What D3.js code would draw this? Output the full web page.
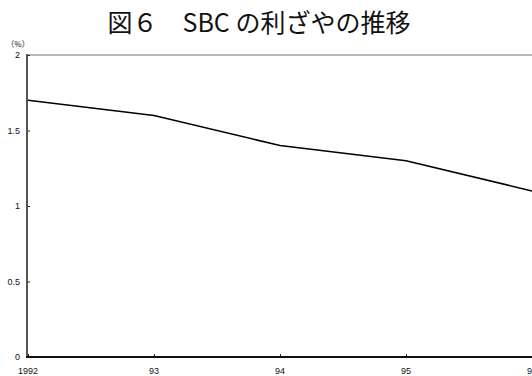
<!DOCTYPE html>
<html>
<head>
<meta charset="utf-8">
<script src="https://cdn.jsdelivr.net/npm/d3@7"></script>
<style>
  html, body { margin: 0; padding: 0; background: #fff; }
  svg { display: block; }
</style>
</head>
<body>
<svg id="chart" width="532" height="376"></svg>
<script>
// Interest margin of SBC, by fiscal year (%)
const years = [1992, 1993, 1994, 1995, 1996];
const yearLabels = ["1992", "93", "94", "95", "96"];
const margin = [1.7, 1.6, 1.4, 1.3, 1.1];
const yTicks = [0, 0.5, 1, 1.5, 2];
const yTickLabels = ["0", "0.5", "1", "1.5", "2"];

const svg = d3.select("#chart");
const W = 532, H = 376;
const plotLeft = 27, plotTop = 55, plotBottom = 357;
const step = 126;

const x = d3.scaleLinear().domain([1992, 1996]).range([plotLeft + 1, plotLeft + 1 + step * 4]);
const y = d3.scaleLinear().domain([0, 2]).range([plotBottom, plotTop]);

const fontJP = "'Noto Sans CJK JP', sans-serif";
const fontNum = "'Liberation Sans', Arial, sans-serif";

// Title
svg.append("text")
  .attr("x", 259).attr("y", 32)
  .attr("text-anchor", "middle")
  .attr("font-family", fontJP)
  .attr("font-size", 25)
  .attr("font-weight", 400)
  .attr("fill", "#111")
  .text("図６　SBC の利ざやの推移");

// Top boundary line at 2%
svg.append("line")
  .attr("x1", plotLeft).attr("x2", W)
  .attr("y1", y(2)).attr("y2", y(2))
  .attr("stroke", "#777").attr("stroke-width", 1);

// Y axis
const yAxis = d3.axisRight(y)
  .tickValues(yTicks)
  .tickSize(3)
  .tickFormat(() => "");
const gy = svg.append("g").attr("transform", `translate(${plotLeft},0)`).call(yAxis);
gy.select(".domain").remove();
gy.selectAll(".tick line").attr("stroke", "#222");
svg.append("line")
  .attr("x1", plotLeft).attr("x2", plotLeft)
  .attr("y1", y(2) - 1).attr("y2", plotBottom)
  .attr("stroke", "#555").attr("stroke-width", 2);

// Y tick labels
svg.append("g").selectAll("text")
  .data(yTicks)
  .join("text")
  .attr("x", 20).attr("y", d => y(d) + 3)
  .attr("text-anchor", "end")
  .attr("font-family", fontNum)
  .attr("font-size", 9)
  .attr("fill", "#111")
  .text((d, i) => yTickLabels[i]);

// Unit label
svg.append("text")
  .attr("x", 18).attr("y", 47)
  .attr("text-anchor", "middle")
  .attr("font-family", fontJP)
  .attr("font-size", 8)
  .attr("fill", "#111")
  .text("（%）");

// X axis
const xAxis = d3.axisTop(x)
  .tickValues(years)
  .tickSize(3)
  .tickFormat(() => "");
const gx = svg.append("g").attr("transform", `translate(0,${plotBottom})`).call(xAxis);
gx.select(".domain").remove();
gx.selectAll(".tick line").attr("stroke", "#222");
svg.append("line")
  .attr("x1", plotLeft - 1).attr("x2", W)
  .attr("y1", plotBottom).attr("y2", plotBottom)
  .attr("stroke", "#111").attr("stroke-width", 2);

// X tick labels (the last one runs past the right edge)
svg.append("g").selectAll("text")
  .data(years)
  .join("text")
  .attr("x", d => x(d))
  .attr("y", 374)
  .attr("text-anchor", "middle")
  .attr("font-family", fontNum)
  .attr("font-size", 9)
  .attr("fill", "#111")
  .text((d, i) => yearLabels[i]);

// Margin line
const line = d3.line()
  .x((d, i) => x(years[i]))
  .y(d => y(d));
svg.append("path")
  .datum(margin)
  .attr("d", line)
  .attr("fill", "none")
  .attr("stroke", "#000")
  .attr("stroke-width", 1.5);
</script>
</body>
</html>
